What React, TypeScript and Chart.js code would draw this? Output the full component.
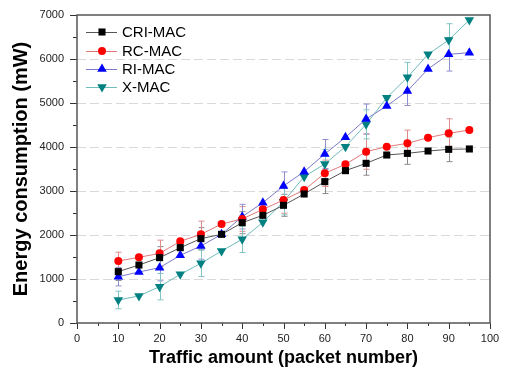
import React, { useEffect, useRef } from "react";
import { Chart, registerables } from "chart.js";

Chart.register(...registerables);

const traffic = [10, 15, 20, 25, 30, 35, 40, 45, 50, 55, 60, 65, 70, 75, 80, 85, 90, 95];
const criMac = [1167, 1318, 1485, 1712, 1917, 2015, 2280, 2447, 2675, 2932, 3212, 3462, 3629, 3818, 3856, 3909, 3947, 3955];
const rcMac = [1409, 1492, 1583, 1856, 2015, 2250, 2364, 2583, 2795, 3023, 3402, 3606, 3894, 4008, 4083, 4212, 4311, 4386];
const riMac = [1053, 1159, 1258, 1538, 1750, 2015, 2417, 2735, 3114, 3439, 3841, 4220, 4636, 4932, 5273, 5773, 6106, 6144];
const xMac = [523, 614, 826, 1106, 1356, 1636, 1902, 2288, 2758, 3326, 3614, 4008, 4515, 5121, 5583, 6106, 6432, 6886];

const criErr = [200, null, 250, null, 250, null, 250, null, 250, null, 270, null, 270, null, 250, null, 280, null];
const rcErr = [200, null, 300, null, 300, null, 280, null, 300, null, 300, null, 400, null, 300, null, 330, null];
const riErr = [210, null, 300, null, 300, null, 280, null, 320, null, 330, null, 340, null, 330, null, 380, null];
const xErr = [200, null, 300, null, 300, null, 300, null, 300, null, 330, null, 330, null, 340, null, 370, null];

const seriesNames = ["CRI-MAC", "RC-MAC", "RI-MAC", "X-MAC"];
const xTitle = "Traffic amount (packet number)";
const yTitle = "Energy consumption (mW)";

const styles = [
  { marker: "#000000", line: "#555555", err: "#8a8a8a", shape: "rect", r: 5 },
  { marker: "#ff0000", line: "#e07878", err: "#e08a8a", shape: "circle", r: 4 },
  { marker: "#0000ff", line: "#7a7ac8", err: "#8f8fd0", shape: "triangle", r: 5.5 },
  { marker: "#008080", line: "#6fbcbc", err: "#80c4c4", shape: "triangle-down", r: 5.5 },
];

function drawMarker(ctx: CanvasRenderingContext2D, shape: string, x: number, y: number, r: number, color: string) {
  ctx.save();
  ctx.fillStyle = color;
  ctx.beginPath();
  if (shape === "rect") {
    const s = r * Math.SQRT1_2;
    ctx.rect(x - s, y - s, 2 * s, 2 * s);
  } else if (shape === "circle") {
    ctx.arc(x, y, r, 0, Math.PI * 2);
  } else if (shape === "triangle") {
    ctx.moveTo(x, y - r);
    ctx.lineTo(x + r * 0.866, y + r * 0.5);
    ctx.lineTo(x - r * 0.866, y + r * 0.5);
    ctx.closePath();
  } else {
    ctx.moveTo(x, y + r);
    ctx.lineTo(x + r * 0.866, y - r * 0.5);
    ctx.lineTo(x - r * 0.866, y - r * 0.5);
    ctx.closePath();
  }
  ctx.fill();
  ctx.restore();
}

export default function App() {
  const ref = useRef<HTMLCanvasElement | null>(null);

  useEffect(() => {
    if (!ref.current) return;
    Chart.defaults.font.family = 'Arial, "Liberation Sans", sans-serif';
    const values = [criMac, rcMac, riMac, xMac];
    const errors = [criErr, rcErr, riErr, xErr];

    const datasets = values.map((vals, i) => ({
      label: seriesNames[i],
      data: traffic.map((t, j) => ({ x: t, y: vals[j] })),
      borderColor: styles[i].line,
      backgroundColor: styles[i].marker,
      pointBackgroundColor: styles[i].marker,
      pointBorderColor: styles[i].marker,
      pointBorderWidth: 0,
      borderWidth: 1,
      pointStyle: styles[i].shape === "triangle-down" ? "triangle" : styles[i].shape,
      rotation: styles[i].shape === "triangle-down" ? 180 : 0,
      pointRadius: styles[i].r,
      tension: 0,
    }));

    const errorBars = {
      id: "errorBars",
      beforeDatasetsDraw(chart: any) {
        const ctx = chart.ctx;
        const xs = chart.scales.x;
        const ys = chart.scales.y;
        ctx.save();
        ctx.lineWidth = 1;
        errors.forEach((errs, i) => {
          ctx.strokeStyle = styles[i].err;
          errs.forEach((e, j) => {
            if (e == null) return;
            const px = Math.round(xs.getPixelForValue(traffic[j])) + 0.5;
            const top = ys.getPixelForValue(values[i][j] + e);
            const bot = ys.getPixelForValue(values[i][j] - e);
            ctx.beginPath();
            ctx.moveTo(px, top);
            ctx.lineTo(px, bot);
            ctx.moveTo(px - 3, top);
            ctx.lineTo(px + 3, top);
            ctx.moveTo(px - 3, bot);
            ctx.lineTo(px + 3, bot);
            ctx.stroke();
          });
        });
        ctx.restore();
      },
    };

    const frameLegend = {
      id: "frameLegend",
      afterDraw(chart: any) {
        const ctx = chart.ctx;
        const a = chart.chartArea;
        const xs = chart.scales.x;
        const ys = chart.scales.y;
        ctx.save();
        ctx.strokeStyle = "#333333";
        ctx.lineWidth = 1;
        ctx.beginPath();
        xs.ticks.forEach((t: any) => {
          const px = Math.round(xs.getPixelForValue(t.value)) + 0.5;
          const len = t.value % 10 === 0 ? 6 : 3;
          ctx.moveTo(px, a.bottom);
          ctx.lineTo(px, a.bottom + len);
        });
        ys.ticks.forEach((t: any) => {
          const py = Math.round(ys.getPixelForValue(t.value)) + 0.5;
          const len = t.value % 1000 === 0 ? 7 : 4;
          ctx.moveTo(a.left, py);
          ctx.lineTo(a.left - len, py);
        });
        ctx.stroke();
        ctx.strokeStyle = "#555555";
        ctx.lineWidth = 1.5;
        ctx.strokeRect(a.left, a.top, a.right - a.left, a.bottom - a.top);
        const rows = [32, 51, 69, 87];
        ctx.font = '15px Arial, "Liberation Sans", sans-serif';
        ctx.textBaseline = "middle";
        rows.forEach((y, i) => {
          ctx.strokeStyle = styles[i].line;
          ctx.lineWidth = 1;
          ctx.beginPath();
          ctx.moveTo(86, y + 0.5);
          ctx.lineTo(117, y + 0.5);
          ctx.stroke();
          drawMarker(ctx, styles[i].shape, 102, y, styles[i].r, styles[i].marker);
          ctx.fillStyle = "#000000";
          ctx.fillText(seriesNames[i], 122, y + 1);
        });
        ctx.restore();
      },
    };

    const chart = new Chart(ref.current, {
      type: "line",
      data: { datasets },
      plugins: [errorBars, frameLegend],
      options: {
        animation: false,
        responsive: false,
        maintainAspectRatio: false,
        layout: { padding: { top: 15, right: 17, left: 0, bottom: 0 } },
        plugins: { legend: { display: false }, tooltip: { enabled: false } },
        scales: {
          x: {
            type: "linear",
            min: 0,
            max: 100,
            afterFit(scale: any) {
              scale.height = 46;
            },
            ticks: {
              stepSize: 5,
              autoSkip: false,
              maxRotation: 0,
              color: "#222",
              font: { size: 11 },
              padding: 2,
              callback: (v: any) => (v % 10 === 0 ? String(v) : ""),
            },
            grid: {
              color: "rgba(0,0,0,0)",
              tickColor: "rgba(0,0,0,0)",
              drawTicks: true,
              tickLength: 7,
            },
            border: { display: false },
            title: {
              display: true,
              text: xTitle,
              color: "#000",
              font: { size: 18, weight: "bold" },
              padding: { top: 0, bottom: 0 },
            },
          },
          y: {
            min: 0,
            max: 7000,
            afterFit(scale: any) {
              scale.width = 77;
            },
            ticks: {
              stepSize: 500,
              autoSkip: false,
              color: "#222",
              font: { size: 11 },
              padding: 2,
              callback: (v: any) => (v % 1000 === 0 ? String(v) : ""),
            },
            grid: {
              color: (c: any) =>
                c.tick && c.tick.value % 1000 === 0 && c.tick.value > 0 && c.tick.value < 7000
                  ? "#d9d9d9"
                  : "rgba(0,0,0,0)",
              tickColor: "rgba(0,0,0,0)",
              drawTicks: true,
              tickLength: 11,
              lineWidth: 1,
            },
            border: { display: false, dash: [9, 4] } as any,
            title: {
              display: true,
              text: yTitle,
              color: "#000",
              font: { size: 20, weight: "bold" },
              padding: { top: 9, bottom: 0 },
            },
          },
        },
      } as any,
    });
    return () => chart.destroy();
  }, []);

  return (
    <div style={{ position: "fixed", left: 0, top: 0, width: 507, height: 369, background: "#fff" }}>
      <canvas ref={ref} width={507} height={369} style={{ width: 507, height: 369 }} />
    </div>
  );
}
